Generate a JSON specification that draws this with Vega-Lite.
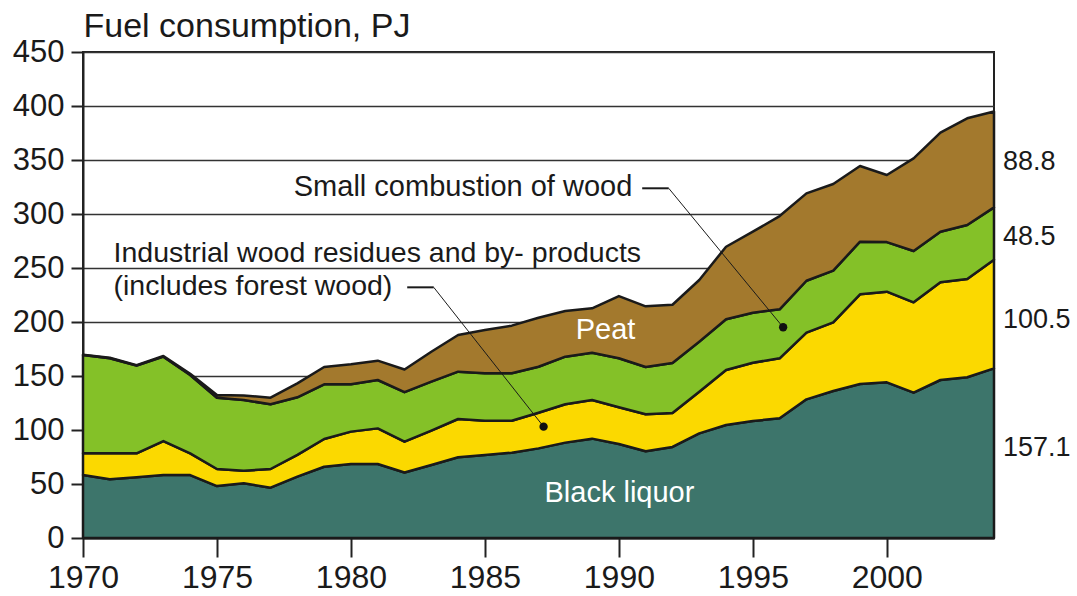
{
  "$schema": "https://vega.github.io/schema/vega-lite/v6.json",
  "autosize": {"type": "none"},
  "padding": {"left": 83, "top": 52, "right": 83, "bottom": 58},
  "width": 911,
  "height": 486,
  "background": "white",
  "config": {
    "font": "Liberation Sans",
    "view": {"stroke": "#222222", "strokeWidth": 2},
    "axis": {
      "labelFont": "Liberation Sans",
      "titleFont": "Liberation Sans",
      "labelColor": "#1a1a1a",
      "titleColor": "#1a1a1a",
      "domainColor": "#222222",
      "domainWidth": 2,
      "tickColor": "#222222",
      "tickWidth": 2
    }
  },
  "datasets": {
    "fuel": [
      {"year": 1970, "source": "Black liquor", "pj": 58.3},
      {"year": 1970, "source": "Industrial wood residues and by-products", "pj": 20.1},
      {"year": 1970, "source": "Peat", "pj": 91.0},
      {"year": 1970, "source": "Small combustion of wood", "pj": 0.3},
      {"year": 1971, "source": "Black liquor", "pj": 54.3},
      {"year": 1971, "source": "Industrial wood residues and by-products", "pj": 24.1},
      {"year": 1971, "source": "Peat", "pj": 88.0},
      {"year": 1971, "source": "Small combustion of wood", "pj": 0.6},
      {"year": 1972, "source": "Black liquor", "pj": 56.2},
      {"year": 1972, "source": "Industrial wood residues and by-products", "pj": 22.2},
      {"year": 1972, "source": "Peat", "pj": 81.2},
      {"year": 1972, "source": "Small combustion of wood", "pj": 0.5},
      {"year": 1973, "source": "Black liquor", "pj": 58.3},
      {"year": 1973, "source": "Industrial wood residues and by-products", "pj": 31.5},
      {"year": 1973, "source": "Peat", "pj": 78.1},
      {"year": 1973, "source": "Small combustion of wood", "pj": 0.6},
      {"year": 1974, "source": "Black liquor", "pj": 58.3},
      {"year": 1974, "source": "Industrial wood residues and by-products", "pj": 20.1},
      {"year": 1974, "source": "Peat", "pj": 72.5},
      {"year": 1974, "source": "Small combustion of wood", "pj": 1.1},
      {"year": 1975, "source": "Black liquor", "pj": 48.1},
      {"year": 1975, "source": "Industrial wood residues and by-products", "pj": 15.8},
      {"year": 1975, "source": "Peat", "pj": 66.0},
      {"year": 1975, "source": "Small combustion of wood", "pj": 2.5},
      {"year": 1976, "source": "Black liquor", "pj": 50.6},
      {"year": 1976, "source": "Industrial wood residues and by-products", "pj": 11.7},
      {"year": 1976, "source": "Peat", "pj": 65.5},
      {"year": 1976, "source": "Small combustion of wood", "pj": 4.2},
      {"year": 1977, "source": "Black liquor", "pj": 46.6},
      {"year": 1977, "source": "Industrial wood residues and by-products", "pj": 17.3},
      {"year": 1977, "source": "Peat", "pj": 59.9},
      {"year": 1977, "source": "Small combustion of wood", "pj": 6.1},
      {"year": 1978, "source": "Black liquor", "pj": 56.8},
      {"year": 1978, "source": "Industrial wood residues and by-products", "pj": 20.1},
      {"year": 1978, "source": "Peat", "pj": 53.4},
      {"year": 1978, "source": "Small combustion of wood", "pj": 12.9},
      {"year": 1979, "source": "Black liquor", "pj": 66.0},
      {"year": 1979, "source": "Industrial wood residues and by-products", "pj": 25.7},
      {"year": 1979, "source": "Peat", "pj": 50.6},
      {"year": 1979, "source": "Small combustion of wood", "pj": 16.0},
      {"year": 1980, "source": "Black liquor", "pj": 68.5},
      {"year": 1980, "source": "Industrial wood residues and by-products", "pj": 30.0},
      {"year": 1980, "source": "Peat", "pj": 43.8},
      {"year": 1980, "source": "Small combustion of wood", "pj": 18.5},
      {"year": 1981, "source": "Black liquor", "pj": 68.5},
      {"year": 1981, "source": "Industrial wood residues and by-products", "pj": 33.0},
      {"year": 1981, "source": "Peat", "pj": 44.8},
      {"year": 1981, "source": "Small combustion of wood", "pj": 17.9},
      {"year": 1982, "source": "Black liquor", "pj": 60.6},
      {"year": 1982, "source": "Industrial wood residues and by-products", "pj": 28.6},
      {"year": 1982, "source": "Peat", "pj": 45.8},
      {"year": 1982, "source": "Small combustion of wood", "pj": 21.0},
      {"year": 1983, "source": "Black liquor", "pj": 67.6},
      {"year": 1983, "source": "Industrial wood residues and by-products", "pj": 31.8},
      {"year": 1983, "source": "Peat", "pj": 45.4},
      {"year": 1983, "source": "Small combustion of wood", "pj": 27.7},
      {"year": 1984, "source": "Black liquor", "pj": 74.7},
      {"year": 1984, "source": "Industrial wood residues and by-products", "pj": 35.5},
      {"year": 1984, "source": "Peat", "pj": 43.8},
      {"year": 1984, "source": "Small combustion of wood", "pj": 34.0},
      {"year": 1985, "source": "Black liquor", "pj": 76.9},
      {"year": 1985, "source": "Industrial wood residues and by-products", "pj": 31.7},
      {"year": 1985, "source": "Peat", "pj": 43.9},
      {"year": 1985, "source": "Small combustion of wood", "pj": 40.1},
      {"year": 1986, "source": "Black liquor", "pj": 79.0},
      {"year": 1986, "source": "Industrial wood residues and by-products", "pj": 29.6},
      {"year": 1986, "source": "Peat", "pj": 43.9},
      {"year": 1986, "source": "Small combustion of wood", "pj": 44.1},
      {"year": 1987, "source": "Black liquor", "pj": 83.0},
      {"year": 1987, "source": "Industrial wood residues and by-products", "pj": 33.0},
      {"year": 1987, "source": "Peat", "pj": 42.6},
      {"year": 1987, "source": "Small combustion of wood", "pj": 45.4},
      {"year": 1988, "source": "Black liquor", "pj": 88.3},
      {"year": 1988, "source": "Industrial wood residues and by-products", "pj": 35.5},
      {"year": 1988, "source": "Peat", "pj": 44.1},
      {"year": 1988, "source": "Small combustion of wood", "pj": 42.3},
      {"year": 1989, "source": "Black liquor", "pj": 92.0},
      {"year": 1989, "source": "Industrial wood residues and by-products", "pj": 35.8},
      {"year": 1989, "source": "Peat", "pj": 43.8},
      {"year": 1989, "source": "Small combustion of wood", "pj": 41.1},
      {"year": 1990, "source": "Black liquor", "pj": 87.0},
      {"year": 1990, "source": "Industrial wood residues and by-products", "pj": 34.0},
      {"year": 1990, "source": "Peat", "pj": 45.4},
      {"year": 1990, "source": "Small combustion of wood", "pj": 57.6},
      {"year": 1991, "source": "Black liquor", "pj": 80.3},
      {"year": 1991, "source": "Industrial wood residues and by-products", "pj": 34.3},
      {"year": 1991, "source": "Peat", "pj": 43.7},
      {"year": 1991, "source": "Small combustion of wood", "pj": 56.2},
      {"year": 1992, "source": "Black liquor", "pj": 84.3},
      {"year": 1992, "source": "Industrial wood residues and by-products", "pj": 31.4},
      {"year": 1992, "source": "Peat", "pj": 46.3},
      {"year": 1992, "source": "Small combustion of wood", "pj": 54.0},
      {"year": 1993, "source": "Black liquor", "pj": 96.9},
      {"year": 1993, "source": "Industrial wood residues and by-products", "pj": 38.6},
      {"year": 1993, "source": "Peat", "pj": 46.3},
      {"year": 1993, "source": "Small combustion of wood", "pj": 57.1},
      {"year": 1994, "source": "Black liquor", "pj": 104.6},
      {"year": 1994, "source": "Industrial wood residues and by-products", "pj": 51.0},
      {"year": 1994, "source": "Peat", "pj": 46.9},
      {"year": 1994, "source": "Small combustion of wood", "pj": 67.2},
      {"year": 1995, "source": "Black liquor", "pj": 108.3},
      {"year": 1995, "source": "Industrial wood residues and by-products", "pj": 54.0},
      {"year": 1995, "source": "Peat", "pj": 46.3},
      {"year": 1995, "source": "Small combustion of wood", "pj": 75.0},
      {"year": 1996, "source": "Black liquor", "pj": 110.8},
      {"year": 1996, "source": "Industrial wood residues and by-products", "pj": 55.6},
      {"year": 1996, "source": "Peat", "pj": 45.3},
      {"year": 1996, "source": "Small combustion of wood", "pj": 86.4},
      {"year": 1997, "source": "Black liquor", "pj": 128.4},
      {"year": 1997, "source": "Industrial wood residues and by-products", "pj": 61.7},
      {"year": 1997, "source": "Peat", "pj": 48.1},
      {"year": 1997, "source": "Small combustion of wood", "pj": 80.9},
      {"year": 1998, "source": "Black liquor", "pj": 136.1},
      {"year": 1998, "source": "Industrial wood residues and by-products", "pj": 63.6},
      {"year": 1998, "source": "Peat", "pj": 47.8},
      {"year": 1998, "source": "Small combustion of wood", "pj": 80.3},
      {"year": 1999, "source": "Black liquor", "pj": 142.6},
      {"year": 1999, "source": "Industrial wood residues and by-products", "pj": 83.0},
      {"year": 1999, "source": "Peat", "pj": 48.8},
      {"year": 1999, "source": "Small combustion of wood", "pj": 70.0},
      {"year": 2000, "source": "Black liquor", "pj": 144.1},
      {"year": 2000, "source": "Industrial wood residues and by-products", "pj": 84.0},
      {"year": 2000, "source": "Peat", "pj": 45.9},
      {"year": 2000, "source": "Small combustion of wood", "pj": 62.1},
      {"year": 2001, "source": "Black liquor", "pj": 134.6},
      {"year": 2001, "source": "Industrial wood residues and by-products", "pj": 83.6},
      {"year": 2001, "source": "Peat", "pj": 47.5},
      {"year": 2001, "source": "Small combustion of wood", "pj": 85.8},
      {"year": 2002, "source": "Black liquor", "pj": 146.3},
      {"year": 2002, "source": "Industrial wood residues and by-products", "pj": 90.4},
      {"year": 2002, "source": "Peat", "pj": 46.9},
      {"year": 2002, "source": "Small combustion of wood", "pj": 91.7},
      {"year": 2003, "source": "Black liquor", "pj": 148.8},
      {"year": 2003, "source": "Industrial wood residues and by-products", "pj": 91.0},
      {"year": 2003, "source": "Peat", "pj": 50.0},
      {"year": 2003, "source": "Small combustion of wood", "pj": 98.8},
      {"year": 2004, "source": "Black liquor", "pj": 157.1},
      {"year": 2004, "source": "Industrial wood residues and by-products", "pj": 100.5},
      {"year": 2004, "source": "Peat", "pj": 48.5},
      {"year": 2004, "source": "Small combustion of wood", "pj": 88.8}
    ],
    "endLabels": [
      {"year": 2004, "pj": 348.0, "text": "88.8"},
      {"year": 2004, "pj": 278.7, "text": "48.5"},
      {"year": 2004, "pj": 201.9, "text": "100.5"},
      {"year": 2004, "pj": 83.3, "text": "157.1"}
    ],
    "notesLeft": [
      {"year": 1971.14, "pj": 263.9, "text": "Industrial wood residues and by- products"},
      {"year": 1971.14, "pj": 233.3, "text": "(includes forest wood)"}
    ],
    "notesRight": [
      {"year": 1990.5, "pj": 325.3, "text": "Small combustion of wood"}
    ],
    "notesWhite": [
      {"year": 1989.5, "pj": 192.6, "text": "Peat"},
      {"year": 1990.02, "pj": 41.7, "text": "Black liquor"}
    ],
    "leaderFlat": [
      {"year": 1990.87, "pj": 323.8, "year2": 1991.86, "pj2": 323.8},
      {"year": 1982.1, "pj": 232.1, "year2": 1983.09, "pj2": 232.1}
    ],
    "leaderDiag": [
      {"year": 1991.86, "pj": 323.8, "year2": 1996.13, "pj2": 195.1},
      {"year": 1983.09, "pj": 232.1, "year2": 1987.19, "pj2": 103.1}
    ],
    "dots": [
      {"year": 1996.13, "pj": 195.1},
      {"year": 1987.19, "pj": 103.1}
    ]
  },
  "layer": [
    {
      "data": {"name": "fuel"},
      "mark": {"type": "area", "stroke": "#1a1a1a", "strokeWidth": 2.5, "strokeJoin": "round", "opacity": 1},
      "encoding": {
        "x": {
          "field": "year", "type": "quantitative",
          "scale": {"domain": [1970, 2004], "nice": false, "zero": false},
          "axis": {
            "values": [1970, 1975, 1980, 1985, 1990, 1995, 2000],
            "format": "d", "title": null, "grid": false,
            "tickSize": 19, "labelFontSize": 32, "labelPadding": 5,
            "labelFlush": false
          }
        },
        "y": {
          "field": "pj", "type": "quantitative", "stack": "zero",
          "scale": {"domain": [0, 450], "nice": false},
          "axis": {
            "values": [0, 50, 100, 150, 200, 250, 300, 350, 400, 450],
            "grid": true, "gridColor": "#333333", "gridWidth": 1.5,
            "tickSize": 12, "labelFontSize": 31, "labelPadding": 7,
            "labelBaseline": "middle",
            "title": "Fuel consumption, PJ", "titleAngle": 0, "titleAlign": "left",
            "titleBaseline": "alphabetic", "titleX": 0, "titleY": -15.5,
            "titleFontSize": 34, "titleFontWeight": "normal"
          }
        },
        "color": {
          "field": "source", "type": "nominal",
          "scale": {
            "domain": ["Black liquor", "Industrial wood residues and by-products", "Peat", "Small combustion of wood"],
            "range": ["#3d756b", "#fbd900", "#84c128", "#a3792d"]
          },
          "legend": null
        },
        "order": {"field": "source", "type": "nominal", "sort": "ascending"}
      }
    },
    {
      "data": {"name": "endLabels"},
      "mark": {"type": "text", "align": "left", "baseline": "middle", "dx": 9, "fontSize": 27, "color": "#1a1a1a"},
      "encoding": {
        "x": {"field": "year", "type": "quantitative"},
        "y": {"field": "pj", "type": "quantitative"},
        "text": {"field": "text"}
      }
    },
    {
      "data": {"name": "notesLeft"},
      "mark": {"type": "text", "align": "left", "baseline": "middle", "fontSize": 28.5, "color": "#1a1a1a"},
      "encoding": {
        "x": {"field": "year", "type": "quantitative"},
        "y": {"field": "pj", "type": "quantitative"},
        "text": {"field": "text"}
      }
    },
    {
      "data": {"name": "notesRight"},
      "mark": {"type": "text", "align": "right", "baseline": "middle", "fontSize": 29, "color": "#1a1a1a"},
      "encoding": {
        "x": {"field": "year", "type": "quantitative"},
        "y": {"field": "pj", "type": "quantitative"},
        "text": {"field": "text"}
      }
    },
    {
      "data": {"name": "notesWhite"},
      "mark": {"type": "text", "align": "center", "baseline": "middle", "fontSize": 29, "color": "white"},
      "encoding": {
        "x": {"field": "year", "type": "quantitative"},
        "y": {"field": "pj", "type": "quantitative"},
        "text": {"field": "text"}
      }
    },
    {
      "data": {"name": "leaderFlat"},
      "mark": {"type": "rule", "color": "#1a1a1a", "strokeWidth": 2},
      "encoding": {
        "x": {"field": "year", "type": "quantitative"},
        "y": {"field": "pj", "type": "quantitative"},
        "x2": {"field": "year2"},
        "y2": {"field": "pj2"}
      }
    },
    {
      "data": {"name": "leaderDiag"},
      "mark": {"type": "rule", "color": "#1a1a1a", "strokeWidth": 1},
      "encoding": {
        "x": {"field": "year", "type": "quantitative"},
        "y": {"field": "pj", "type": "quantitative"},
        "x2": {"field": "year2"},
        "y2": {"field": "pj2"}
      }
    },
    {
      "data": {"name": "dots"},
      "mark": {"type": "point", "filled": true, "color": "#111111", "size": 70, "opacity": 1},
      "encoding": {
        "x": {"field": "year", "type": "quantitative"},
        "y": {"field": "pj", "type": "quantitative"}
      }
    }
  ]
}
